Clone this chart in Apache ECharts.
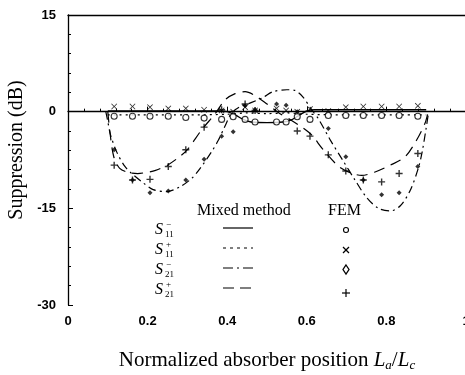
<!DOCTYPE html>
<html>
<head>
<meta charset="utf-8">
<script src="https://cdn.jsdelivr.net/npm/echarts@6/dist/echarts.min.js"></script>
<style>html,body{margin:0;padding:0;background:#fff}#c{width:465px;height:375px}</style>
</head>
<body>
<div id="c"></div>
<script>
// ---- Data ----
const xTicks = [0, 0.2, 0.4, 0.6, 0.8, 1];
const yTicks = [-30, -15, 0, 15];

// Mixed method curves
const s11mX = [0.10, 0.38, 0.40, 0.42, 0.44, 0.46, 0.50, 0.54, 0.56, 0.58, 0.60, 0.62, 0.90];
const s11mY = [0.1, 0.1, 0.0, -0.5, -1.2, -1.6, -1.7, -1.6, -1.3, -0.6, 0.1, 0.3, 0.3];

const s11pX = [0.10, 0.30, 0.40, 0.45, 0.50, 0.55, 0.60, 0.70, 0.90];
const s11pY = [-0.5, -0.5, -0.4, -0.2, -0.3, -0.2, -0.4, -0.5, -0.5];

const s21mX = [0.095, 0.10, 0.106, 0.122, 0.143, 0.164, 0.19, 0.214, 0.248, 0.28, 0.31, 0.332, 0.361, 0.378, 0.394, 0.41, 0.43, 0.46, 0.49, 0.515, 0.55, 0.57, 0.59, 0.61, 0.63, 0.66, 0.69, 0.72, 0.75, 0.78, 0.81, 0.835, 0.86, 0.88, 0.89, 0.90, 0.905];
const s21mY = [0, -1.5, -3.4, -6.2, -8.5, -9.8, -11.1, -12.1, -12.4, -11.7, -10.4, -8.8, -6.2, -4.4, -2.3, -0.3, 0.7, 1.4, 2.2, 3.1, 3.4, 3.3, 2.3, 0.5, -1.2, -4.5, -7.5, -10.5, -13.3, -15.0, -15.4, -14.6, -12.2, -8.8, -6.2, -2.5, -0.5];

const s21pX = [0.10, 0.105, 0.115, 0.13, 0.15, 0.175, 0.20, 0.22, 0.25, 0.28, 0.30, 0.336, 0.37, 0.394, 0.42, 0.445, 0.47, 0.50, 0.53, 0.56, 0.59, 0.612, 0.64, 0.68, 0.71, 0.738, 0.77, 0.81, 0.847, 0.876, 0.897, 0.905];
const s21pY = [0, -3.0, -7.0, -8.8, -9.4, -9.6, -9.4, -9.1, -8.3, -7.0, -5.9, -2.8, -0.3, 1.8, 2.8, 3.1, 2.5, 1.2, -0.2, -1.3, -2.5, -3.6, -5.8, -8.5, -9.5, -9.9, -9.4, -8.3, -7.0, -4.4, -1.8, 0];

// FEM points
const femX = [0.116, 0.162, 0.206, 0.252, 0.296, 0.342, 0.386, 0.415, 0.445, 0.470, 0.524, 0.548, 0.576, 0.608, 0.654, 0.698, 0.742, 0.788, 0.832, 0.879];
const femS11m = [-0.7, -0.7, -0.7, -0.7, -0.9, -1.0, -1.2, -0.8, -1.2, -1.6, -1.6, -1.6, -0.8, -1.2, -0.6, -0.6, -0.6, -0.6, -0.6, -0.7];
const femS11p = [0.8, 0.8, 0.7, 0.5, 0.5, 0.3, 0.2, 0.0, 0.7, 0.2, 0.5, 0.2, 0.0, 0.4, 0.1, 0.7, 0.8, 0.8, 0.8, 0.9];
const femS21m = [-5.9, -10.6, -12.6, -12.3, -10.6, -7.4, -3.8, -3.1, 0.9, 0.3, 1.2, 1.0, 0.0, null, -2.6, -7.0, -10.6, -12.9, -12.6, -8.5];
const femS21p = [-8.3, -10.6, -10.5, -8.5, -5.9, -2.4, 0.3, null, 1.2, 0.2, null, null, -3.0, -3.8, -6.7, -9.2, -10.6, -10.9, -9.6, -6.5];

// ---- helpers ----
const pairs = (xs, ys) => xs.map((x, i) => [x, ys[i]]).filter(p => p[1] !== null);
const PLUS = 'path://M4,0H6V4H10V6H6V10H4V6H0V4H4Z';
const CROSS = 'path://M1,0L5,4L9,0L10,1L6,5L10,9L9,10L5,6L1,10L0,9L4,5L0,1Z';
const serif = '"Liberation Serif", "Times New Roman", serif';
const sans = '"Liberation Sans", Arial, sans-serif';

function lineSeries(name, xs, ys, type, width) {
  return {
    name, type: 'line', data: pairs(xs, ys), smooth: 0.3, symbol: 'none',
    lineStyle: { color: '#000', width: width || 1.2, type: type },
    z: 2, animation: false
  };
}
function femSeries(name, ys, symbol, size, hollow) {
  return {
    name, type: 'scatter', data: pairs(femX, ys), symbol, symbolSize: size,
    itemStyle: hollow ? { color: '#fff', borderColor: '#000', borderWidth: 1.1 } : { color: '#000' },
    z: 3, animation: false
  };
}

// legend graphics
const rows = [
  { sub: '11', sup: '\u2212', y: 230, dash: null },
  { sub: '11', sup: '+', y: 250, dash: [3, 4] },
  { sub: '21', sup: '\u2212', y: 270, dash: [10, 4, 2, 4] },
  { sub: '21', sup: '+', y: 290, dash: [11, 6] }
];
const graphics = [
  { type: 'text', x: 197, y: 203, style: { text: 'Mixed method', font: '16px ' + serif, fill: '#000' } },
  { type: 'text', x: 328, y: 203, style: { text: 'FEM', font: '16px ' + serif, fill: '#000' } }
];
rows.forEach(r => {
  graphics.push({ type: 'text', x: 155, y: r.y, style: { text: 'S', font: 'italic 16px ' + serif, fill: '#000', verticalAlign: 'middle', align: 'left' } });
  graphics.push({ type: 'text', x: 165, y: r.y + 5, style: { text: r.sub, font: '9px ' + serif, fill: '#000', verticalAlign: 'middle', align: 'left' } });
  graphics.push({ type: 'text', x: 166, y: r.y - 5, style: { text: r.sup, font: '9px ' + serif, fill: '#000', verticalAlign: 'middle', align: 'left' } });
  const ls = { stroke: '#000', lineWidth: 1.2 };
  if (r.dash) ls.lineDash = r.dash;
  graphics.push({ type: 'line', shape: { x1: 223, y1: r.y - 2, x2: 253, y2: r.y - 2 }, style: ls });
});
graphics.push({ type: 'circle', shape: { cx: 346, cy: 230, r: 2.5 }, style: { fill: '#fff', stroke: '#000', lineWidth: 1.1 } });
graphics.push({ type: 'line', shape: { x1: 343, y1: 247, x2: 349, y2: 253 }, style: { stroke: '#000', lineWidth: 1.2 } });
graphics.push({ type: 'line', shape: { x1: 349, y1: 247, x2: 343, y2: 253 }, style: { stroke: '#000', lineWidth: 1.2 } });
graphics.push({ type: 'polygon', shape: { points: [[346, 265], [349, 269.5], [346, 274], [343, 269.5]] }, style: { fill: '#fff', stroke: '#000', lineWidth: 1.3 } });
graphics.push({ type: 'line', shape: { x1: 346, y1: 289, x2: 346, y2: 297 }, style: { stroke: '#000', lineWidth: 1.2 } });
graphics.push({ type: 'line', shape: { x1: 342, y1: 293, x2: 350, y2: 293 }, style: { stroke: '#000', lineWidth: 1.2 } });

const chart = echarts.init(document.getElementById('c'), null, { renderer: 'canvas' });
chart.setOption({
  animation: false,
  backgroundColor: '#fff',
  grid: { left: 68, right: -1, top: 15, bottom: 70, containLabel: false, outerBoundsMode: 'none' },
  xAxis: [{
    type: 'value', min: xTicks[0], max: xTicks[xTicks.length - 1], interval: 0.2,
    name: '{n|Normalized absorber position }{i|L}{s|a}{n|/}{i|L}{s|c}',
    nameLocation: 'middle', nameGap: 44,
    nameTextStyle: {
      rich: {
        n: { fontFamily: serif, fontSize: 21, color: '#000' },
        i: { fontFamily: serif, fontStyle: 'italic', fontSize: 21, color: '#000' },
        s: { fontFamily: serif, fontStyle: 'italic', fontSize: 13, color: '#000', padding: [10, 0, 0, 0] }
      }
    },
    axisLine: { lineStyle: { color: '#000', width: 1.3 } },
    axisTick: { inside: true, length: 5, lineStyle: { color: '#000' } },
    minorTick: { show: true, splitNumber: 5, length: 3, lineStyle: { color: '#000' } },
    splitLine: { show: false },
    axisLabel: { color: '#000', fontFamily: sans, fontSize: 13, fontWeight: 'bold', margin: 10, formatter: v => String(v) }
  }, {
    type: 'value', position: 'top', min: 0, max: 1,
    axisLine: { show: true, lineStyle: { color: '#000', width: 1.3 } },
    axisTick: { show: false }, axisLabel: { show: false }, splitLine: { show: false }
  }],
  yAxis: {
    type: 'value', min: yTicks[0], max: yTicks[yTicks.length - 1], interval: 15,
    name: 'Suppression (dB)', nameLocation: 'middle', nameGap: 37, nameRotate: 90,
    nameTextStyle: { fontFamily: serif, fontSize: 20, color: '#000', padding: [0, 0, 0, 20] },
    axisLine: { show: true, lineStyle: { color: '#000', width: 1.3 } },
    axisTick: { inside: true, length: 5, lineStyle: { color: '#000' } },
    minorTick: { show: true, splitNumber: 5, length: 3, lineStyle: { color: '#000' } },
    splitLine: { show: false },
    axisLabel: { color: '#000', fontFamily: sans, fontSize: 13, fontWeight: 'bold', margin: 12 }
  },
  series: [
    lineSeries('S11- mixed', s11mX, s11mY, 'solid', 1.4),
    lineSeries('S11+ mixed', s11pX, s11pY, [2, 4], 1.2),
    lineSeries('S21- mixed', s21mX, s21mY, [8, 4, 2, 4], 1.2),
    lineSeries('S21+ mixed', s21pX, s21pY, [11, 7], 1.2),
    femSeries('S11- FEM', femS11m, 'circle', 6, true),
    femSeries('S11+ FEM', femS11p, CROSS, 6, false),
    femSeries('S21- FEM', femS21m, 'diamond', 5, false),
    femSeries('S21+ FEM', femS21p, PLUS, 7, false)
  ],
  graphic: graphics
});
</script>
</body>
</html>
